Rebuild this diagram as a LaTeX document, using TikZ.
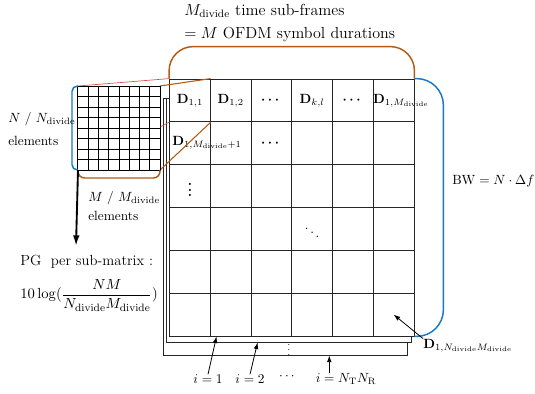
\documentclass[tikz,border=0pt]{standalone}
\usepackage{amsmath}
\usepackage{amssymb}
\usepackage{bm}
\usepackage{tikz}
\usetikzlibrary{arrows.meta, calc, positioning}
\usepackage{xcolor}
\definecolor{frameorange}{RGB}{178,90,22}
\definecolor{bandblue}{RGB}{22,120,200}
\definecolor{linkred}{RGB}{210,80,70}
\newcommand{\dv}{\mathrm{divide}}

\begin{document}
\begin{tikzpicture}[x=0.75pt, y=-0.75pt,
  cell/.style={draw=black!85, fill=white, line width=0.6pt, minimum width=30.56pt,
               minimum height=32.12pt, inner sep=0pt},
  subcell/.style={draw=black, fill=white, line width=0.75pt, minimum width=7.69pt,
                  minimum height=7.875pt, inner sep=0pt},
  layer/.style={draw=black!85, fill=white, line width=0.6pt, inner sep=0pt},
  lbl/.style={font=\normalsize, inner sep=0pt},
  biglbl/.style={font=\large, inner sep=0pt},
  arr/.style={-{Latex[length=5pt,width=3.5pt]}, line width=0.6pt},
  bigarr/.style={-{Latex[length=8pt,width=5pt]}, line width=1.4pt},
  brace/.style={line width=1.1pt, rounded corners=#1}
]
  \useasboundingbox (0,0) rectangle (535,393);
  \node[layer, minimum width=183pt, minimum height=192.75pt]    (layer3) at (285,226.5) {};
  \node[layer, minimum width=183.75pt, minimum height=183pt]    (layer2) at (288.5,220) {};
  \foreach \r in {1,...,6}{
    \foreach \c in {1,...,6}{
      \node[cell] (c-\r-\c) at ({169.5+40.75*(\c-0.5)},{79+42.83*(\r-0.5)}) {};
    }
  }
  \node[lbl] (d11) at (c-1-1) {$\mathbf{D}_{1,1}$};
  \node[lbl] (d12) at (c-1-2) {$\mathbf{D}_{1,2}$};
  \node[lbl] (rdots1) at (c-1-3) {$\bm{\cdots}$};
  \node[lbl] (dkl) at (c-1-4) {$\mathbf{D}_{k,l}$};
  \node[lbl] (rdots2) at (c-1-5) {$\bm{\cdots}$};
  \node[lbl, anchor=west] (d1m) at (c-1-6.west) {$\mathbf{D}_{1,M_{\dv}}$};
  \node[lbl, anchor=base west] (d1m1) at (172,145) {$\mathbf{D}_{1,M_{\dv}+1}$};
  \node[lbl] (rdots3) at (c-2-3) {$\bm{\cdots}$};
  \node[lbl] (cdots) at (c-3-1) {$\bm{\vdots}$};
  \node[lbl] (ddots) at (c-4-4) {$\bm{\ddots}$};
  \node[lbl, font=\scriptsize] (ldots) at (289,346) {$\vdots$};

  \coordinate (sg-nw) at (78,86);
  \coordinate (sg-ne) at (160,86);
  \coordinate (sg-sw) at (78,170);
  \coordinate (sg-se) at (160,170);
  \draw[linkred, line width=0.5pt] (sg-nw) -- (c-1-1.north west);
  \draw[linkred, line width=0.5pt] (sg-sw) -- (c-1-1.south west);
  \draw[frameorange, line width=0.8pt] (sg-ne) -- (c-1-1.north east);
  \draw[frameorange, line width=0.8pt] (sg-se) -- (c-1-1.south east);
  \foreach \r in {1,...,8}{
    \foreach \c in {1,...,8}{
      \node[subcell] (s-\r-\c) at ({78+10.25*(\c-0.5)},{86+10.5*(\r-0.5)}) {};
    }
  }

  \draw[bandblue, brace=4pt] (sg-nw) -- ++(-6,0) |- (sg-sw);
  \draw[frameorange, brace=5pt] (sg-sw) -- ++(0,8) -| (sg-se);
  \draw[frameorange, brace=18pt] (c-1-1.north west) -- ++(0,-32) -| (c-1-6.north east);
  \draw[bandblue, brace=20pt] (c-1-6.north east) -- ++(29,0) |- (c-6-6.south east);

  \node[biglbl, anchor=north west, align=left] (frames) at (184,4)
    {$M_{\dv}$ time sub-frames\\[3.5pt]$=M$ OFDM symbol durations};
  \node[lbl, anchor=west, align=left] (rows) at (8,129) {$N$ / $N_{\dv}$\\[5pt]elements};
  \node[lbl, anchor=west, align=left] (cols) at (88,206) {$M$ / $M_{\dv}$\\[2pt]elements};
  \node[lbl, anchor=west] (bw) at (452,181) {$\mathrm{BW}=N\cdot\Delta f$};
  \node[inner sep=0pt, font=\fontsize{11}{13.6}\selectfont, anchor=north west, align=left] (pg) at (20,255)
    {PG\ \ per sub-matrix :\\[7pt]$10\log(\dfrac{NM}{N_{\dv}M_{\dv}})$};
  \coordinate (pgtip) at (76,246);
  \draw[bigarr] (sg-sw) -- (pgtip);

  \node[lbl, anchor=base west] (dlast) at (423,348) {$\mathbf{D}_{1,N_{\dv}M_{\dv}}$};
  \draw[arr] (dlast.north west) -- (c-6-6.center);

  \node[lbl] (i1) at (208,379) {$i=1$};
  \node[lbl] (i2) at (250,379) {$i=2$};
  \node[lbl] (idots) at (288,377) {$\cdots$};
  \node[lbl] (iN) at (346,379) {$i=N_{\mathrm{T}}N_{\mathrm{R}}$};
  \coordinate (tip3) at ([xshift=125pt]layer3.south west);
  \draw[arr] (i1.north) -- ([xshift=5pt]c-6-2.south west);
  \draw[arr] (i2.north) -- ([xshift=69pt]layer2.south west);
  \draw[arr] (tip3 |- iN.north) -- (tip3);
\end{tikzpicture}
\end{document}
